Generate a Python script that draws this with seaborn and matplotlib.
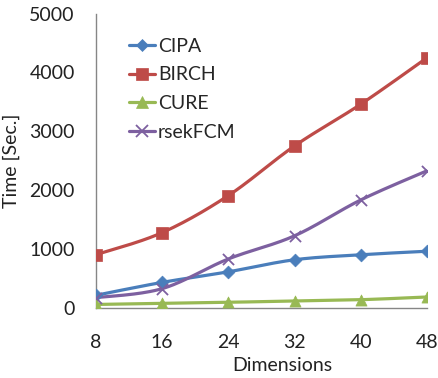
import numpy as np
import pandas as pd
import seaborn as sns
import matplotlib
matplotlib.use("Agg")
import matplotlib.pyplot as plt
from matplotlib.lines import Line2D

# Run time (seconds) against number of dimensions
dimensions = [8, 16, 24, 32, 40, 48]
cipa = [210, 430, 610, 815, 900, 960]
birch = [900, 1275, 1905, 2750, 3460, 4250]
cure = [55, 75, 92, 114, 136, 182]
rsekfcm = [170, 323, 828, 1222, 1832, 2328]

series_names = ["CIPA", "BIRCH", "CURE", "rsekFCM"]
series_values = [cipa, birch, cure, rsekfcm]
colors = ["#4A7EBB", "#BE4B48", "#98B954", "#7D60A0"]
markers = ["D", "s", "^", "x"]
marker_sizes = [6.5, 8, 8, 8]

sns.set_style("white")
plt.rcParams["font.family"] = ["Lato", "DejaVu Sans"]
FS = 14


def smooth(xs, ys, steps=30):
    """Piecewise cubic Bezier through the points (Catmull-Rom style tangents)."""
    xs = np.asarray(xs, float)
    ys = np.asarray(ys, float)
    n = len(xs)
    out_x, out_y = [], []
    t = np.linspace(0, 1, steps)
    for i in range(n - 1):
        p0 = np.array([xs[i], ys[i]])
        p3 = np.array([xs[i + 1], ys[i + 1]])
        prev = np.array([xs[max(i - 1, 0)], ys[max(i - 1, 0)]])
        nxt = np.array([xs[min(i + 2, n - 1)], ys[min(i + 2, n - 1)]])
        p1 = p0 + (p3 - prev) / 6.0
        p2 = p3 - (nxt - p0) / 6.0
        b = ((1 - t) ** 3)[:, None] * p0 + (3 * (1 - t) ** 2 * t)[:, None] * p1 \
            + (3 * (1 - t) * t ** 2)[:, None] * p2 + (t ** 3)[:, None] * p3
        if i > 0:
            b = b[1:]
        out_x.extend(b[:, 0])
        out_y.extend(b[:, 1])
    return np.array(out_x), np.array(out_y)


fig = plt.figure(figsize=(4.38, 3.78), dpi=100)
ax = fig.add_axes([0.2185, 0.186, 0.7565, 0.778])

handles = []
for name, vals, c, m, ms in zip(series_names, series_values, colors, markers, marker_sizes):
    sx, sy = smooth(dimensions, vals)
    curve = pd.DataFrame({"x": sx, "y": sy})
    sns.lineplot(data=curve, x="x", y="y", ax=ax, color=c, linewidth=2.3,
                 sort=False, estimator=None, zorder=2)
    pts = pd.DataFrame({"x": dimensions, "y": vals})
    if m == "x":
        sns.scatterplot(data=pts, x="x", y="y", ax=ax, marker=m, s=ms ** 2,
                        color=c, linewidth=1.3, zorder=3)
    else:
        sns.scatterplot(data=pts, x="x", y="y", ax=ax, marker=m, s=ms ** 2,
                        color=c, edgecolor=c, linewidth=0.5, zorder=3)
    handles.append(Line2D([], [], color=c, linewidth=2.3, marker=m,
                          markersize=ms, markeredgewidth=1.3 if m == "x" else 0.5,
                          label=name))

ax.set_xlim(8, 48)
ax.set_ylim(0, 5000)
ax.set_xticks(dimensions)
ax.set_yticks([0, 1000, 2000, 3000, 4000, 5000])
ax.tick_params(axis="both", direction="out", length=4, width=1, color="#868686",
               labelsize=FS, labelcolor="#222222")
ax.tick_params(axis="y", pad=11)
ax.tick_params(axis="x", pad=15)

for side in ["top", "right"]:
    ax.spines[side].set_visible(False)
for side in ["left", "bottom"]:
    ax.spines[side].set_color("#868686")
    ax.spines[side].set_linewidth(1)

ax.set_xlabel("Dimensions", fontsize=FS, color="#222222")
ax.xaxis.set_label_coords(0.562, -0.168)
ax.set_ylabel("Time [Sec.]", fontsize=FS, color="#222222")
ax.yaxis.set_label_coords(-0.228, 0.5)

ax.legend(handles=handles, loc="upper left", bbox_to_anchor=(0.10, 0.918),
          frameon=False, fontsize=FS, handlelength=1.35, handletextpad=0.15,
          labelspacing=0.6, borderaxespad=0, borderpad=0)

fig.savefig("out.png", dpi=100)
